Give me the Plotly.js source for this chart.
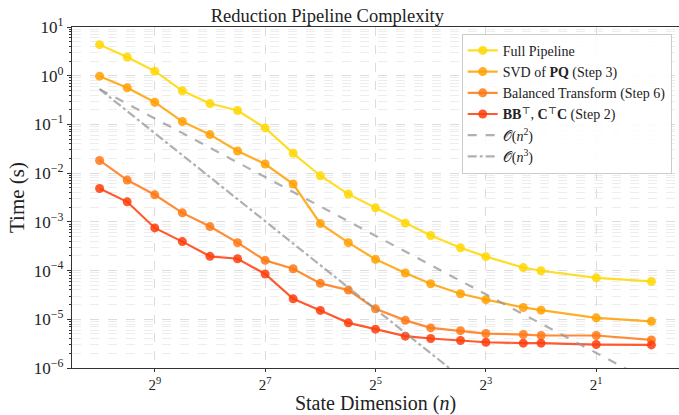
<!DOCTYPE html>
<html>
<head>
<meta charset="utf-8">
<script src="https://cdn.plot.ly/plotly-3.0.1.min.js"></script>
<style>html,body{margin:0;padding:0;background:#fff;}#chart{width:679px;height:415px;}</style>
</head>
<body>
<div id="chart"></div>
<script>
// State dimension n
const stateDim = [1024, 724, 512, 362, 256, 181, 128, 90, 64, 45, 32, 22, 16, 11, 8, 5, 4, 2, 1];

// Timings (s)
const fullPipeline = [4.34, 2.41, 1.24, 0.49, 0.268, 0.193, 0.0848, 0.0255, 0.00885, 0.00371, 0.00194, 9.4e-4, 5.25e-4, 2.93e-4, 1.93e-4, 1.15e-4, 9.9e-5, 7.1e-5, 6.0e-5];
const svdPQ = [0.98, 0.565, 0.286, 0.1146, 0.0618, 0.0285, 0.0154, 0.00597, 9.2e-4, 3.74e-4, 1.70e-4, 8.9e-5, 5.37e-5, 3.35e-5, 2.53e-5, 1.75e-5, 1.54e-5, 1.07e-5, 9.1e-6];
const balanced = [0.0182, 0.0072, 0.00359, 0.00153, 8.0e-4, 3.74e-4, 1.62e-4, 1.09e-4, 5.46e-5, 3.98e-5, 1.64e-5, 9.5e-6, 6.66e-6, 5.85e-6, 5.1e-6, 4.86e-6, 4.65e-6, 4.65e-6, 3.77e-6];
const bbcc = [0.00484, 0.00258, 7.5e-4, 3.93e-4, 1.96e-4, 1.75e-4, 8.5e-5, 2.63e-5, 1.52e-5, 8.45e-6, 6.27e-6, 4.5e-6, 4.03e-6, 3.66e-6, 3.38e-6, 3.24e-6, 3.24e-6, 3.03e-6, 2.98e-6];

// Reference scaling lines
const refN2 = [0.53, 0.265, 0.1325, 0.0662, 0.0331, 0.01656, 0.00828, 0.00409, 0.00207, 0.00102, 5.18e-4, 2.45e-4, 1.29e-4, 6.1e-5, 3.23e-5, 1.26e-5, 8.1e-6, 2.0e-6, 5.1e-7];
const refN3 = [0.53, 0.1873, 0.06625, 0.02342, 0.00828, 0.002927, 0.001035, 3.6e-4, 1.294e-4, 4.5e-5, 1.617e-5, 5.26e-6, 2.02e-6, 6.57e-7, 2.53e-7, 6.2e-8, 3.16e-8, 3.9e-9, 4.9e-10];

const xTickVals = [512, 128, 32, 8, 2];
const xTickText = ['2<sup>9</sup>', '2<sup>7</sup>', '2<sup>5</sup>', '2<sup>3</sup>', '2<sup>1</sup>'];
const yTickVals = [10, 1, 0.1, 0.01, 0.001, 1e-4, 1e-5, 1e-6];
const yTickText = ['10<sup>1</sup>', '10<sup>0</sup>', '10<sup>−1</sup>', '10<sup>−2</sup>', '10<sup>−3</sup>', '10<sup>−4</sup>', '10<sup>−5</sup>', '10<sup>−6</sup>'];

const names = ['Full Pipeline', 'SVD of <b>PQ</b> (Step 3)', 'Balanced Transform (Step 6)', '<b>BB</b><sup>⊤</sup>, <b>C</b><sup>⊤</sup><b>C</b> (Step 2)', '𝒪(<i>n</i><sup>2</sup>)', '𝒪(<i>n</i><sup>3</sup>)'];
const lineCols = ['rgba(255,215,0,0.85)', 'rgba(255,160,0,0.85)', 'rgba(255,120,20,0.85)', 'rgba(255,60,10,0.85)'];

const minorVals = [];
for (let e = -6; e < 1; e++) { for (let m = 2; m <= 9; m++) minorVals.push(m * Math.pow(10, e)); }

const FONT = 'Liberation Serif, DejaVu Serif, serif';

function series(y, i) {
  return {
    x: stateDim, y: y, name: names[i], type: 'scatter', mode: 'lines+markers',
    line: {color: lineCols[i], width: 2.2},
    marker: {color: lineCols[i], size: 9}
  };
}

const data = [
  series(fullPipeline, 0),
  series(svdPQ, 1),
  series(balanced, 2),
  series(bbcc, 3),
  {x: stateDim, y: refN2, name: names[4], type: 'scatter', mode: 'lines',
   line: {color: 'rgba(150,150,150,0.75)', width: 2.2, dash: 'dash'}},
  {x: stateDim, y: refN3, name: names[5], type: 'scatter', mode: 'lines',
   line: {color: 'rgba(150,150,150,0.75)', width: 2.2, dash: 'dashdot'}}
];

const layout = {
  width: 679, height: 415,
  margin: {l: 72, r: 0, t: 27, b: 47},
  paper_bgcolor: '#fff', plot_bgcolor: '#fff',
  font: {family: FONT, color: '#222', size: 14},
  showlegend: true,
  title: {text: 'Reduction Pipeline Complexity', font: {family: FONT, size: 18.5, color: '#222'},
          xref: 'container', x: 0.482, xanchor: 'center', yref: 'container', y: 0.962, yanchor: 'middle'},
  xaxis: {
    type: 'log', range: [Math.log10(Math.pow(2, 10.5)), Math.log10(Math.pow(2, -0.5))],
    tickmode: 'array', tickvals: xTickVals, ticktext: xTickText,
    ticks: 'outside', ticklen: 3, tickcolor: '#333',
    showgrid: true, gridcolor: '#dcdcdc', griddash: 'dash', gridwidth: 1,
    showline: true, linecolor: '#333', linewidth: 1.2, mirror: true,
    zeroline: false,
    tickfont: {family: FONT, size: 15, color: '#222'},
    title: {text: 'State Dimension (<i>n</i>)', font: {family: FONT, size: 20, color: '#222'}, standoff: 6}
  },
  yaxis: {
    type: 'log', range: [-6, 1],
    tickmode: 'array', tickvals: yTickVals, ticktext: yTickText,
    ticks: 'outside', ticklen: 4, tickcolor: '#333',
    showgrid: true, gridcolor: '#dcdcdc', griddash: 'dash', gridwidth: 1,
    minor: {tickmode: 'array', tickvals: minorVals, ticks: 'outside', ticklen: 2, tickcolor: '#333',
            showgrid: true, gridcolor: '#ededed', griddash: 'dash', gridwidth: 1},
    showline: true, linecolor: '#333', linewidth: 1.2, mirror: true,
    zeroline: false,
    tickfont: {family: FONT, size: 17, color: '#222'},
    title: {text: 'Time (s)', font: {family: FONT, size: 21, color: '#222'}, standoff: 3}
  },
  legend: {
    x: 0.988, xanchor: 'right', y: 0.98, yanchor: 'top',
    bgcolor: 'rgba(255,255,255,0.85)', bordercolor: '#cccccc', borderwidth: 1,
    font: {family: FONT, size: 14, color: '#222'},
    tracegroupgap: 0, itemwidth: 30
  }
};

Plotly.newPlot('chart', data, layout, {displayModeBar: false, staticPlot: true});
</script>
</body>
</html>
